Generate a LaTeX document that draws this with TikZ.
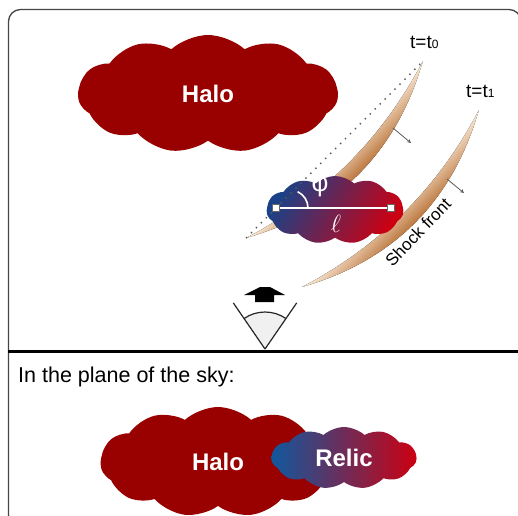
\documentclass[tikz,border=0pt]{standalone}
\usepackage{fontspec}
\setmainfont{Liberation Sans}
\usetikzlibrary{shapes.symbols}

\definecolor{halored}{RGB}{153,0,0}
\definecolor{relicblue}{RGB}{16,88,158}
\definecolor{relicnavy}{RGB}{26,66,136}
\definecolor{relicred}{RGB}{205,0,18}
\definecolor{frontdark}{RGB}{168,82,14}
\definecolor{frontlight}{RGB}{250,234,214}
\definecolor{framegray}{RGB}{70,70,70}

\tikzset{
  puff/.style={cloud, cloud puffs=11, cloud puff arc=85, cloud ignores aspect,
    inner sep=0pt, text=white, font=\fontsize{24}{28}\selectfont\bfseries},
  halo/.style={puff, fill=halored},
  relic/.style={puff, left color=relicblue, right color=relicred},
  front/.style={top color=frontlight, bottom color=frontdark},
  normal/.style={->, >=stealth, draw=black!65, line width=0.8pt},
  endmark/.style={draw=black!60, fill=white, minimum size=7pt, inner sep=0pt, line width=0.5pt},
  tlabel/.style={anchor=base west, font=\fontsize{19}{22}\selectfont, inner sep=0pt},
  eyeline/.style={draw=black!85, line width=1.2pt},
}

\begin{document}
\begin{tikzpicture}[x=1pt, y=-1pt]
  \useasboundingbox (0,0) rectangle (518,515);
  \clip (0,0) rectangle (518,515);

  % frame and divider
  \draw[framegray, line width=1.3pt, rounded corners=12pt] (8.5,9.5) rectangle (521,527);

  % observer
  \coordinate (eye) at (265,349);
  \fill[black!6] (eye) -- ++(-124.5:37) arc[start angle=-124.5, end angle=-55.5, radius=37] -- cycle;
  \draw[eyeline] (eye) ++(-124.5:37) arc[start angle=-124.5, end angle=-55.5, radius=37];
  \draw[eyeline] (eye) -- ++(-124.5:56);
  \draw[eyeline] (eye) -- ++(-55.5:56);
  \fill (255,302) -- (255,295) -- (244,295) -- (260,287) -- (270,287) -- (285,295)
    -- (274,295) -- (274,302) -- cycle;

  \draw[line width=3pt] (8,351) -- (518,351);

  % upper panel
  \node[halo, minimum width=260pt, minimum height=118pt] (halotop) at (208,94) {Halo};

  % shock fronts at t0 and t1
  \begin{scope}[transform canvas={shift={(246,238)}, rotate=45}]
    \fill[front] (0,0) .. controls (83,26) and (167,26) .. (250,0)
      .. controls (167,46) and (83,46) .. (0,0) -- cycle;
  \end{scope}
  \begin{scope}[transform canvas={shift={(302,287)}, rotate=45}]
    \fill[front] (0,0) .. controls (83,26) and (167,26) .. (250,0)
      .. controls (167,46) and (83,46) .. (0,0) -- cycle;
  \end{scope}

  \coordinate (n0a) at (393,128);
  \coordinate (n0b) at (411,143);
  \coordinate (n1a) at (447,179);
  \coordinate (n1b) at (464,193);
  \draw[normal] (n0a) -- (n0b);
  \draw[normal] (n1a) -- (n1b);

  \node[tlabel] (t0) at (410,48) {t=t{\fontsize{12}{12}\selectfont 0}};
  \node[tlabel] (t1) at (466,97) {t=t{\fontsize{12}{12}\selectfont 1}};
  \node[rotate=46, font=\fontsize{17}{19}\selectfont] (shock) at (418,232) {Shock front};

  % relic seen side-on
  \node[relic, left color=relicnavy, shading angle=60, minimum width=137pt, minimum height=68pt] (relictop) at (335,210) {};

  \coordinate (t0a) at (246,238);
  \coordinate (t0b) at (422.8,61.2);
  \draw[black!65, line width=1.4pt, dash pattern=on 1.4pt off 5.6pt] (t0a) -- (t0b);

  \node[endmark] (la) at (276,208) {};
  \node[endmark] (lb) at (391,208) {};
  \draw[white, line width=1.6pt] (la.east) -- (lb.west);
  \draw[white, line width=1.6pt] (308,208) arc[start angle=0, end angle=-65, radius=18];
  \node[text=white, font=\fontsize{26}{28}\selectfont] (phi) at (320,187) {φ};
  \node[text=white, font=\fontsize{24}{26}\selectfont] (ell) at (336,224) {$\ell$};

  % lower panel
  \node[tlabel, font=\fontsize{21.5}{24}\selectfont] (sky) at (18,382) {In the plane of the sky:};
  \node[halo, minimum width=235pt, minimum height=110pt] (halobot) at (218,462) {Halo};
  \node[relic, minimum width=145pt, minimum height=62pt] (relicbot) at (344,458) {Relic};
\end{tikzpicture}
\end{document}
